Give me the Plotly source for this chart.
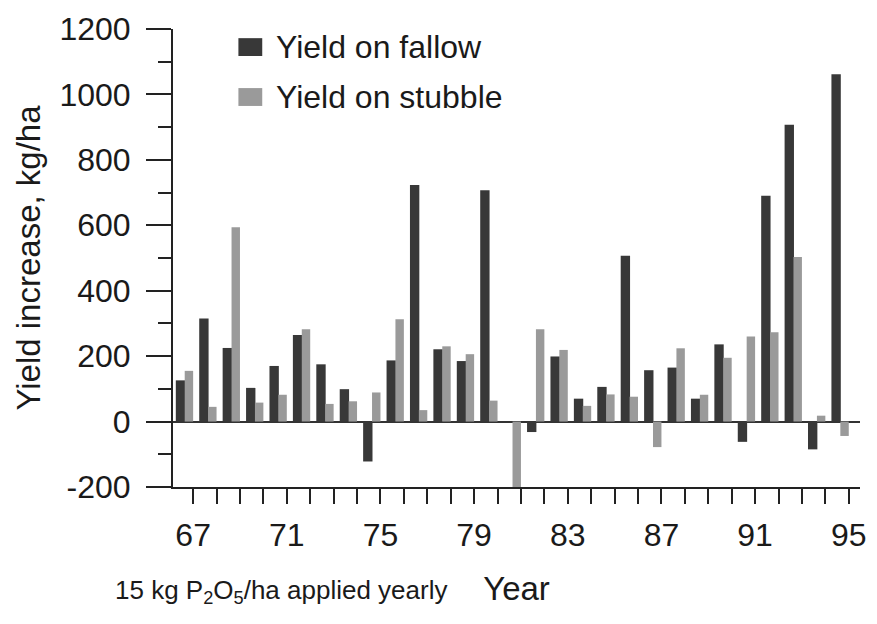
import plotly.graph_objects as go

years = list(range(67, 96))
fallow = [126, 315, 225, 103, 170, 265, 175, 99, -122, 187, 723, 221, 185, 707,
          0, -32, 199, 70, 106, 507, 157, 165, 70, 236, -62, 690, 907, -85, 1062]
stubble = [155, 45, 594, 58, 82, 282, 54, 62, 89, 313, 35, 230, 206, 64,
           -200, 282, 219, 48, 83, 76, -78, 224, 82, 195, 260, 273, 503, 18, -44]
tick_years = [67, 71, 75, 79, 83, 87, 91, 95]
y_ticks = [-200, 0, 200, 400, 600, 800, 1000, 1200]
y_ticktext = ["-200", "0", "200", "400", "600", "800", "1000", "1200"]
series_names = ["Yield on fallow", "Yield on stubble"]
series_colors = ["#383838", "#9a9a9a"]

FONT = "Liberation Sans, Arial, sans-serif"
TXT = "#1a1a1a"

fig = go.Figure()
fig.add_trace(go.Bar(x=years, y=fallow, name=series_names[0],
                     marker=dict(color=series_colors[0], line=dict(width=0)),
                     offset=-0.74, width=0.40, showlegend=False))
fig.add_trace(go.Bar(x=years, y=stubble, name=series_names[1],
                     marker=dict(color=series_colors[1], line=dict(width=0)),
                     offset=-0.36, width=0.36, showlegend=False))

# manual legend (larger swatches, as in the reference)
shapes = []
annotations = []
leg_rows = [(0.941, 0.980, 0.9607), (0.832, 0.871, 0.8515)]
for (y0, y1, yt), name, col in zip(leg_rows, series_names, series_colors):
    shapes.append(dict(type="rect", xref="paper", yref="paper",
                       x0=0.0952, x1=0.1299, y0=y0, y1=y1,
                       fillcolor=col, line=dict(width=0)))
    annotations.append(dict(text=name, xref="paper", yref="paper",
                            x=0.147, y=yt, xanchor="left", yanchor="middle",
                            showarrow=False, font=dict(size=32, color=TXT)))

annotations.append(dict(text="15 kg P<sub>2</sub>O<sub>5</sub>/ha applied yearly",
                        xref="paper", yref="paper", x=-0.087, y=-0.228,
                        xanchor="left", yanchor="middle", showarrow=False,
                        font=dict(size=26, color=TXT)))

fig.update_layout(
    width=877, height=624,
    margin=dict(l=173, r=11, t=29, b=137),
    paper_bgcolor="white", plot_bgcolor="white",
    barmode="overlay",
    font=dict(family=FONT, size=32, color=TXT),
    showlegend=False,
    xaxis=dict(range=[66.14, 95.48], showgrid=False, zeroline=False,
               showline=True, linecolor="#222", linewidth=2,
               tickmode="array", tickvals=tick_years,
               ticks="outside", ticklen=15, tickwidth=2, tickcolor="#222",
               minor=dict(dtick=1, tick0=67, ticks="outside", ticklen=15,
                          tickwidth=2, tickcolor="#222"),
               ticklabelstandoff=4,
               tickfont=dict(size=32, color=TXT),
               title=dict(text="Year", font=dict(size=33, color=TXT), standoff=24)),
    yaxis=dict(range=[-200, 1200], showgrid=False,
               zeroline=True, zerolinecolor="#333", zerolinewidth=1.5,
               showline=True, linecolor="#222", linewidth=2,
               tickmode="array", tickvals=y_ticks, ticktext=y_ticktext,
               ticks="outside", ticklen=25, tickwidth=2, tickcolor="#222",
               minor=dict(dtick=100, tick0=-200, ticks="outside", ticklen=13,
                          tickwidth=2, tickcolor="#222"),
               ticklabelstandoff=9,
               tickfont=dict(size=32, color=TXT),
               title=dict(text="Yield increase, kg/ha", font=dict(size=33, color=TXT),
                          standoff=9)),
    shapes=shapes,
    annotations=annotations,
)

fig.write_html("out.html")
